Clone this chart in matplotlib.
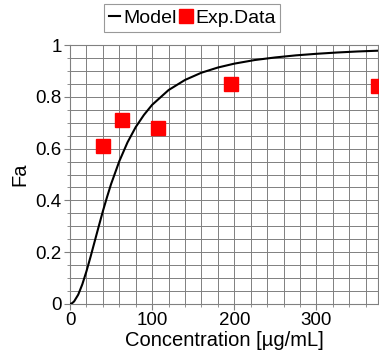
import matplotlib
matplotlib.use("Agg")
import matplotlib.pyplot as plt
from matplotlib.ticker import MultipleLocator

plt.rcParams['font.family'] = ['Liberation Sans', 'DejaVu Sans']

# Model curve
model_x = [0, 2.5, 5, 10, 15, 20, 25, 30, 35, 40, 45, 50, 60, 70, 80, 90, 100,
           120, 140, 160, 180, 200, 225, 250, 275, 300, 325, 350, 375]
model_y = [0.0, 0.003, 0.010, 0.036, 0.076, 0.126, 0.182, 0.241, 0.300, 0.358,
           0.412, 0.463, 0.551, 0.624, 0.683, 0.730, 0.769, 0.826, 0.865, 0.893,
           0.913, 0.928, 0.942, 0.952, 0.960, 0.966, 0.971, 0.975, 0.978]

# Experimental data
exp_x = [40, 63, 107, 196, 375]
exp_y = [0.61, 0.71, 0.68, 0.85, 0.84]

fig = plt.figure(figsize=(3.79, 3.62), dpi=100)
ax = fig.add_axes([70/379, 58/362, 308/379, 259/362])

ax.set_xlim(0, 375)
ax.set_ylim(0, 1)
ax.xaxis.set_major_locator(MultipleLocator(100))
ax.xaxis.set_minor_locator(MultipleLocator(20))
ax.yaxis.set_major_locator(MultipleLocator(0.2))
ax.yaxis.set_minor_locator(MultipleLocator(0.05))
ax.grid(True, which='both', color='#808080', linewidth=0.7)
ax.set_axisbelow(True)

for s in ax.spines.values():
    s.set_color('#808080')
    s.set_linewidth(0.8)

ax.tick_params(which='both', direction='out', color='#808080', labelsize=13.5, pad=2)
ax.tick_params(which='major', length=4)
ax.tick_params(which='minor', length=2)

ax.set_yticks([0, 0.2, 0.4, 0.6, 0.8, 1.0])
ax.set_yticklabels(['0', '0.2', '0.4', '0.6', '0.8', '1'])

line, = ax.plot(model_x, model_y, color='black', linewidth=1.5, label='Model', zorder=3)
pts, = ax.plot(exp_x, exp_y, linestyle='none', marker='s', markersize=9.5,
               color='#ff0000', label='Exp.Data', zorder=4, clip_on=True)

ax.set_xlabel('Concentration [µg/mL]', fontsize=14.5, labelpad=1)
ax.set_ylabel('Fa', fontsize=14.5, labelpad=4)

leg = fig.legend(handles=[line, pts], loc='center', bbox_to_anchor=(192/379, 1 - 18/362),
                 ncol=2, fontsize=14, frameon=True, fancybox=False,
                 handlelength=0.6, handletextpad=0.15, columnspacing=0.2,
                 borderpad=0.25, borderaxespad=0, markerscale=1.0)
leg.get_frame().set_edgecolor('#808080')
leg.get_frame().set_linewidth(0.8)

fig.savefig('out.png', dpi=100)
